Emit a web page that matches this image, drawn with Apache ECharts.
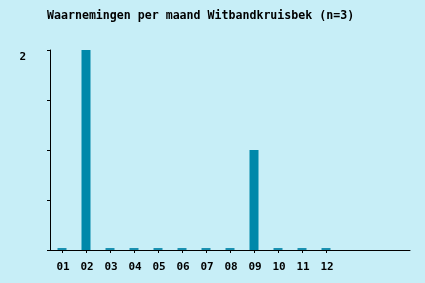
<!DOCTYPE html>
<html>
<head>
<meta charset="utf-8">
<script src="https://cdn.jsdelivr.net/npm/echarts@6/dist/echarts.min.js"></script>
<style>
html,body{margin:0;padding:0;background:#c7eef7;}
#c{width:425px;height:283px;}
</style>
</head>
<body>
<div id="c"></div>
<script>
const titleText = 'Waarnemingen per maand Witbandkruisbek (n=3)';
const months = ['01','02','03','04','05','06','07','08','09','10','11','12','','',''];
const counts = [0,2,0,0,0,0,0,0,1,0,0,0];
const yTickLabels = {2:'2'};

const chart = echarts.init(document.getElementById('c'), null, {renderer:'canvas'});
const font = 'DejaVu Sans Mono';
chart.setOption({
  backgroundColor:'#c7eef7',
  animation:false,
  title:{
    text:titleText, left:42, top:5,
    textStyle:{fontFamily:font, fontWeight:'bold', fontSize:11.6, color:'#000'}
  },
  grid:{left:50, right:15, top:50, bottom:33, containLabel:false},
  xAxis:{
    type:'category', data:months, boundaryGap:true,
    axisLine:{lineStyle:{color:'#000', width:1}},
    axisTick:{show:true, alignWithLabel:true, length:3, lineStyle:{color:'#000'},
      interval:function(i, v){ return v !== ''; }},
    axisLabel:{interval:0, margin:12, padding:[0,0,0,2], fontFamily:font, fontWeight:'bold', fontSize:11, color:'#000'},
    splitLine:{show:false}
  },
  yAxis:{
    type:'value', min:0, max:2, interval:0.5,
    axisLine:{show:true, lineStyle:{color:'#000', width:1}},
    axisTick:{show:true, length:3, lineStyle:{color:'#000'}},
    axisLabel:{margin:24, fontFamily:font, fontWeight:'bold', fontSize:11, color:'#000',
      verticalAlign:'top', padding:[2,0,0,0], formatter:function(v){ return yTickLabels[v] || ''; }},
    splitLine:{show:false}
  },
  series:[{
    type:'bar', data:counts, barWidth:9, barMinHeight:2,
    itemStyle:{color:function(p){ return p.value === 0 ? '#1a90b0' : '#0088aa'; }}
  }]
});
</script>
</body>
</html>
